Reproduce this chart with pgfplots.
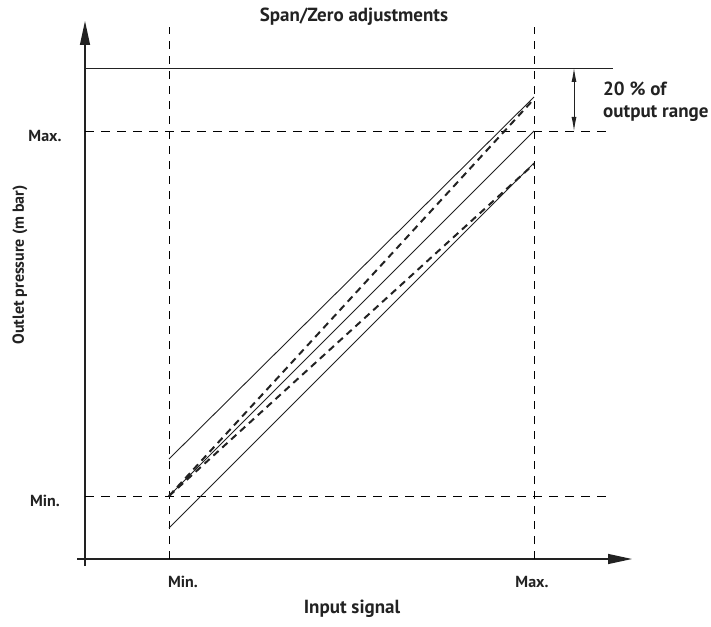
\documentclass[border=0pt]{standalone}
\usepackage{fontspec}
\setmainfont{PT Sans}
\usepackage{pgfplots}
\pgfplotsset{compat=1.18}
\usetikzlibrary{arrows.meta}
\definecolor{ink}{HTML}{222222}
\definecolor{grid}{HTML}{555555}
\tikzset{
  lab/.style={font=\fontsize{16}{19}\selectfont\bfseries, text=ink},
  big/.style={font=\fontsize{19}{22}\selectfont\bfseries, text=ink},
}
\begin{document}
\begin{tikzpicture}
\begin{axis}[
  x=1pt, y=1pt,
  xmin=-8, xmax=547,
  ymin=-7, ymax=538,
  axis lines=middle,
  axis line style={ink, line width=1.2pt, -{Triangle[length=24pt,width=10pt]}},
  xtick=\empty, ytick=\empty,
  clip=false,
]
% reference levels
\addplot[grid, line width=0.9pt, dash pattern=on 9pt off 7pt] coordinates {(0,63)(528,63)};
\addplot[grid, line width=0.9pt, dash pattern=on 9pt off 7pt] coordinates {(0,428)(528,428)};
\addplot[grid, line width=0.9pt, dash pattern=on 8pt off 7pt] coordinates {(84,0)(84,532)};
\addplot[grid, line width=0.9pt, dash pattern=on 8pt off 7pt] coordinates {(449,0)(449,532)};
\addplot[ink, line width=0.9pt] coordinates {(0,491)(528,491)};
% zero shift (solid)
\addplot[ink, line width=0.9pt] coordinates {(84,100)(449,462)};
\addplot[ink, line width=0.9pt] coordinates {(84,63)(449,428)};
\addplot[ink, line width=0.9pt] coordinates {(84,31)(449,396)};
% span (dashed)
\addplot[ink, line width=2pt, dash pattern=on 7pt off 5pt] coordinates {(84,63)(449,460)};
\addplot[ink, line width=2pt, dash pattern=on 7pt off 5pt] coordinates {(84,63)(449,395)};
% 20 % arrow
\draw[ink, line width=0.9pt, {Latex[length=14pt,width=5pt]}-{Latex[length=14pt,width=5pt]}] (axis cs:489,428) -- (axis cs:489,491);
\node[big, anchor=west, align=left, inner sep=0pt] at (axis cs:518,457) {20 \% of\\[0pt]output range};
% labels
\node[big] at (axis cs:269,542) {Span/Zero adjustments};
\node[big] at (axis cs:267,-50) {Input signal};
\node[lab] at (axis cs:98,-23) {Min.};
\node[lab] at (axis cs:447,-23) {Max.};
\node[lab] at (axis cs:-40,58) {Min.};
\node[lab] at (axis cs:-40,423) {Max.};
\node[lab, rotate=90] at (axis cs:-65,294) {Outlet pressure (m bar)};
\path (axis cs:-85,-67) rectangle (axis cs:626,559);
\end{axis}
\end{tikzpicture}
\end{document}
